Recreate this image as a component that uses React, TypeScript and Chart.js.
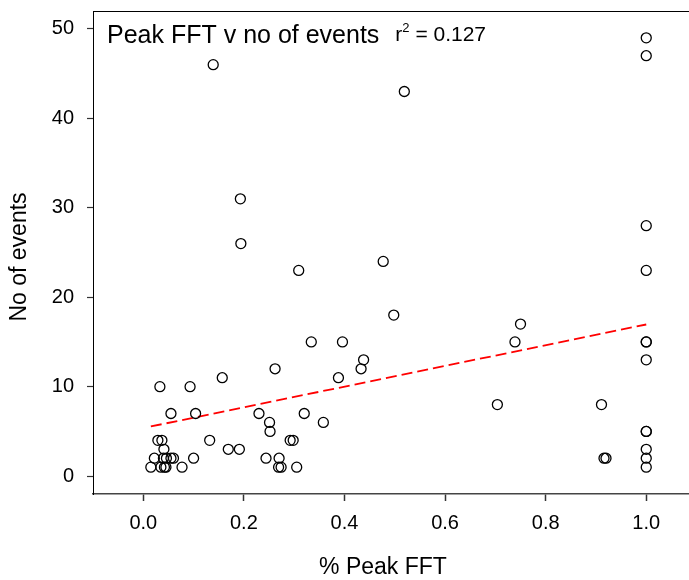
import React, { useEffect, useRef } from "react";
import { Chart, registerables } from "chart.js";

Chart.register(...registerables);

// ---- data ----
const pctPeakFFT = [
  0.015, 0.035, 0.042, 0.045, 0.077,
  0.022, 0.040, 0.046, 0.055, 0.060, 0.100,
  0.041, 0.029, 0.037, 0.055, 0.104, 0.033, 0.093,
  0.132, 0.157, 0.169, 0.191, 0.230, 0.251, 0.252, 0.244, 0.262,
  0.270, 0.269, 0.274, 0.292, 0.298, 0.305, 0.320, 0.358, 0.334,
  0.396, 0.388, 0.433, 0.438, 0.498, 0.477, 0.309, 0.193, 0.194,
  0.139, 0.519,
  0.704, 0.739, 0.750, 0.911, 0.916, 0.920,
  1.0, 1.0, 1.0, 1.0, 1.0, 1.0, 1.0, 1.0, 1.0, 1.0, 1.0, 1.0,
];
const noOfEvents = [
  1, 1, 1, 1, 1,
  2, 2, 2, 2, 2, 2,
  3, 4, 4, 7, 7, 10, 10,
  4, 11, 3, 3, 7, 6, 5, 2, 12,
  2, 1, 1, 4, 4, 1, 7, 6, 15,
  15, 11, 12, 13, 18, 24, 23, 31, 26,
  46, 43,
  8, 15, 17, 8, 2, 2,
  49, 47, 28, 23, 15, 15, 13, 5, 5, 3, 2, 1,
];
// linear regression line end points
const fitX = [0.015, 1.0];
const fitY = [5.55, 16.95];

const xTicks = [0, 0.2, 0.4, 0.6, 0.8, 1.0];
const yTicks = [0, 10, 20, 30, 40, 50];
const xTitle = "% Peak FFT";
const yTitle = "No of events";
const annotation = "Peak FFT v no of events";
const r2Value = "0.127";

const FONT = "'Liberation Sans', Arial, Helvetica, sans-serif";

const overlay = {
  id: "overlay",
  afterDraw(chart: any) {
    const { ctx, chartArea } = chart;
    ctx.save();
    // top frame line
    ctx.strokeStyle = "#000";
    ctx.lineWidth = 1;
    ctx.beginPath();
    ctx.moveTo(chartArea.left, Math.round(chartArea.top) + 0.5);
    ctx.lineTo(chartArea.right, Math.round(chartArea.top) + 0.5);
    ctx.stroke();

    ctx.fillStyle = "#000";
    ctx.textAlign = "left";
    ctx.textBaseline = "alphabetic";
    // annotation
    ctx.font = `25px ${FONT}`;
    const ax = chartArea.left + 14;
    ctx.fillText(annotation, ax, 43);
    const aw = ctx.measureText(annotation).width;
    let rx = ax + aw + 16;
    ctx.font = `21px ${FONT}`;
    ctx.fillText("r", rx, 41);
    rx += ctx.measureText("r").width;
    ctx.font = `13px ${FONT}`;
    ctx.fillText("2", rx, 32);
    rx += ctx.measureText("2").width;
    ctx.font = `21px ${FONT}`;
    ctx.fillText(" = " + r2Value, rx, 41);

    // axis titles
    ctx.font = `23px ${FONT}`;
    ctx.textAlign = "center";
    ctx.textBaseline = "middle";
    ctx.fillText(xTitle, 383, 568);
    ctx.translate(20, 257);
    ctx.rotate(-Math.PI / 2);
    ctx.fillText(yTitle, 0, 0);
    ctx.restore();
  },
};

export default function App() {
  const ref = useRef<HTMLCanvasElement>(null);

  useEffect(() => {
    document.body.style.margin = "0";
    const canvas = ref.current;
    if (!canvas) return;
    const points = pctPeakFFT.map((x, i) => ({ x, y: noOfEvents[i] }));
    const fit = fitX.map((x, i) => ({ x, y: fitY[i] }));
    const chart = new Chart(canvas, {
      type: "scatter",
      data: {
        datasets: [
          {
            type: "line",
            label: "fit",
            data: fit,
            borderColor: "#ff0000",
            borderWidth: 1.8,
            borderDash: [11, 5],
            pointRadius: 0,
            fill: false,
            order: 2,
          } as any,
          {
            label: "events",
            data: points,
            pointRadius: 5,
            pointHoverRadius: 5,
            pointBorderWidth: 1.3,
            pointBorderColor: "#000",
            pointBackgroundColor: "rgba(0,0,0,0)",
            order: 1,
          },
        ],
      },
      options: {
        animation: false,
        responsive: false,
        maintainAspectRatio: false,
        layout: { autoPadding: false, padding: { top: 11, right: 0, left: 0, bottom: 0 } },
        plugins: {
          legend: { display: false },
          tooltip: { enabled: false },
        },
        scales: {
          x: {
            type: "linear",
            min: -0.1,
            max: 1.085,
            afterBuildTicks: (s: any) => {
              s.ticks = xTicks.map((v) => ({ value: v }));
            },
            afterFit: (s: any) => {
              s.height = 86;
              s.paddingLeft = 0;
              s.paddingRight = 0;
            },
            ticks: {
              color: "#000",
              font: { size: 20, family: FONT },
              padding: 10,
              maxRotation: 0,
              autoSkip: false,
              callback: (v: any) => Number(v).toFixed(1),
            },
            grid: {
              drawOnChartArea: false,
              drawTicks: true,
              tickLength: 7,
              tickColor: "#333",
              tickWidth: 1.5,
            },
            border: { display: true, color: "#444", width: 1.5 },
          },
          y: {
            type: "linear",
            min: -2,
            max: 52,
            afterBuildTicks: (s: any) => {
              s.ticks = yTicks.map((v) => ({ value: v }));
            },
            afterFit: (s: any) => {
              s.width = 93;
              s.paddingTop = 0;
              s.paddingBottom = 0;
            },
            ticks: {
              color: "#000",
              font: { size: 20, family: FONT },
              padding: 13,
              autoSkip: false,
              callback: (v: any) => String(v),
            },
            grid: {
              drawOnChartArea: false,
              drawTicks: true,
              tickLength: 6,
              tickColor: "#333",
              tickWidth: 1.2,
            },
            border: { display: true, color: "#000", width: 1 },
          },
        },
      },
      plugins: [overlay],
    });
    return () => chart.destroy();
  }, []);

  return (
    <div style={{ width: 689, height: 580, background: "#fff" }}>
      <canvas ref={ref} width={689} height={580} style={{ display: "block" }} />
    </div>
  );
}
